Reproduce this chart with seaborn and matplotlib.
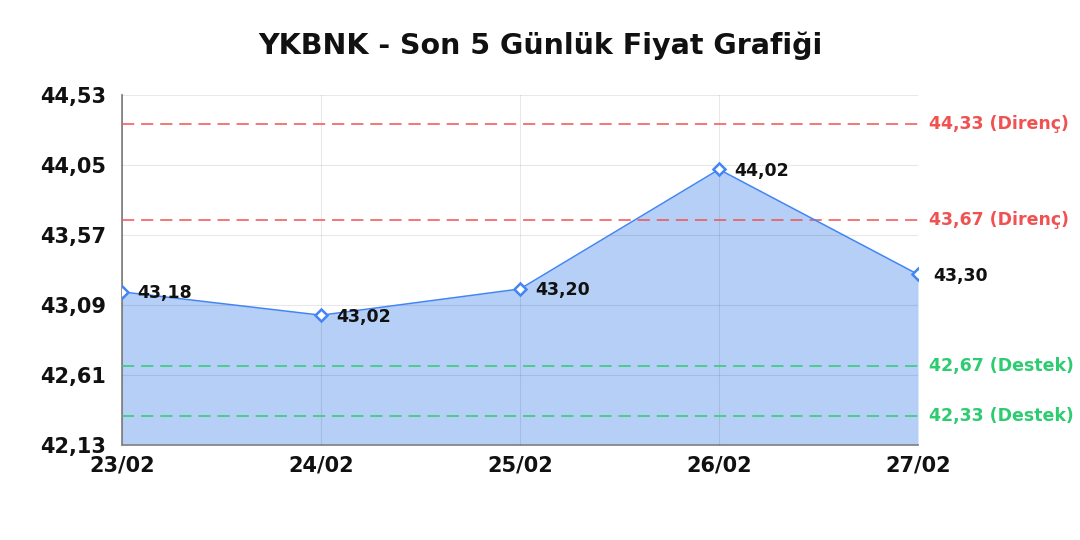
import matplotlib

matplotlib.use("Agg")
import matplotlib.pyplot as plt
import numpy as np
import pandas as pd
import seaborn as sns

# data
dates = ["23/02", "24/02", "25/02", "26/02", "27/02"]
prices = [43.18, 43.02, 43.20, 44.02, 43.30]
resistance = [44.33, 43.67]
support = [42.67, 42.33]
y_ticks = [42.13, 42.61, 43.09, 43.57, 44.05, 44.53]

LINE = "#4285f4"
FILL = "#b6cff7"
RED = "#f05252"
GREEN = "#2ecc71"

sns.set_style("whitegrid", {"grid.color": (0, 0, 0, 0.09), "axes.edgecolor": "#888888"})
plt.rcParams["font.family"] = ["DejaVu Sans"]


def tr(v):
    # turkish decimal comma
    return f"{v:.2f}".replace(".", ",")


df = pd.DataFrame({"x": np.arange(len(dates)), "price": prices})

fig = plt.figure(figsize=(10.8, 5.4), dpi=100)
ax = fig.add_axes([0.113, 0.176, 0.737, 0.648])
ax.set_axisbelow(False)

ax.fill_between(df["x"], df["price"], y_ticks[0], color=FILL, zorder=1, linewidth=0)
sns.lineplot(data=df, x="x", y="price", ax=ax, color=LINE, linewidth=1.1,
             marker="D", markersize=6.5, markerfacecolor="white",
             markeredgecolor=LINE, markeredgewidth=1.8, zorder=4)

for xi, p in zip(df["x"], df["price"]):
    ax.annotate(tr(p), (xi, p), xytext=(11, -1),
                textcoords="offset points", va="center", ha="left",
                fontsize=12.5, fontweight="bold", color="#111111", zorder=5)

for lvl in resistance:
    ax.axhline(lvl, color=RED, linestyle=(0, (8, 4.5)), linewidth=1.1, zorder=3)
    ax.annotate(tr(lvl) + " (Direnç)", (1.0, lvl),
                xycoords=("axes fraction", "data"), xytext=(8, 0),
                textcoords="offset points", va="center", ha="left",
                fontsize=12.5, fontweight="bold", color=RED)
for lvl in support:
    ax.axhline(lvl, color=GREEN, linestyle=(0, (8, 4.5)), linewidth=1.1, zorder=3)
    ax.annotate(tr(lvl) + " (Destek)", (1.0, lvl),
                xycoords=("axes fraction", "data"), xytext=(8, 0),
                textcoords="offset points", va="center", ha="left",
                fontsize=12.5, fontweight="bold", color=GREEN)

ax.set_xlim(0, len(dates) - 1)
ax.set_ylim(y_ticks[0], y_ticks[-1])
ax.set_xticks(df["x"])
ax.set_xticklabels(dates)
ax.set_yticks(y_ticks)
ax.set_yticklabels([tr(t) for t in y_ticks])
for lab in ax.get_xticklabels() + ax.get_yticklabels():
    lab.set_fontweight("bold")
    lab.set_fontsize(15)
    lab.set_color("#111111")
ax.tick_params(axis="x", pad=4)
ax.tick_params(axis="y", pad=8)
ax.set_xlabel("")
ax.set_ylabel("")
ax.spines["top"].set_visible(False)
ax.spines["right"].set_visible(False)
ax.spines["left"].set_linewidth(1.3)
ax.spines["bottom"].set_linewidth(1.3)

fig.suptitle("YKBNK - Son 5 Günlük Fiyat Grafiği", y=0.942, fontsize=20.5,
             fontweight="bold", color="#111111")

fig.savefig("out.png", dpi=100)
